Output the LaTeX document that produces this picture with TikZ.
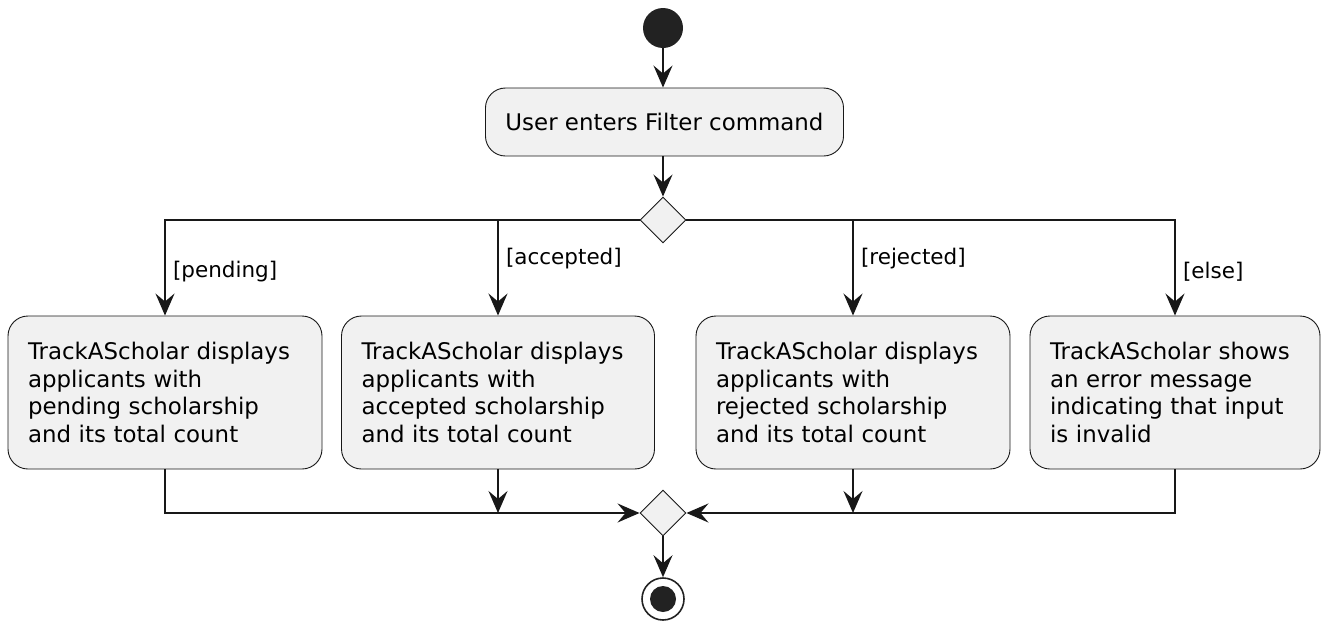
\documentclass[tikz,border=0pt]{standalone}
\usepackage{fontspec}
\setmainfont{DejaVu Sans}
\usetikzlibrary{shapes.geometric,arrows.meta}
\definecolor{actfill}{HTML}{F1F1F1}
\definecolor{ink}{HTML}{181818}
\definecolor{dot}{HTML}{222222}
\tikzset{
  act/.style={draw=ink, line width=0.9pt, fill=actfill, rounded corners=20pt,
    inner xsep=20pt, inner ysep=0pt, font=\fontsize{22.9}{27.7}\selectfont},
  actbox/.style={act, minimum height=153pt, text width=#1, align=left},
  dia/.style={draw=ink, line width=0.9pt, fill=actfill, diamond, aspect=1,
    minimum width=46pt, minimum height=46pt, inner sep=0pt},
  startc/.style={circle, fill=dot, minimum size=40pt, inner sep=0pt},
  endc/.style={circle, draw=dot, line width=1.6pt, fill=white, minimum size=42pt, inner sep=0pt},
  conn/.style={draw=ink, line width=2pt},
  arr/.style={conn, -{Stealth[length=22pt, width=19pt, inset=8pt]}},
  lbl/.style={font=\fontsize{21.5}{26}\selectfont, anchor=west, inner sep=0pt, xshift=7pt}
}
\begin{document}
\begin{tikzpicture}[x=1pt,y=-1pt]
\useasboundingbox (0,0) rectangle (1336,624);
\node[startc] (start) at (663,28) {};
\node[act, minimum width=357pt, minimum height=68pt] (cmd) at (664.5,122) {User enters Filter command};
\node[dia] (d1) at (663,220) {};
\node[actbox=274pt] (a) at (165,392.5) {TrackAScholar displays\\applicants with\\pending scholarship\\and its total count};
\node[actbox=273pt] (b) at (498,392.5) {TrackAScholar displays\\applicants with\\accepted scholarship\\and its total count};
\node[actbox=274pt] (c) at (853,392.5) {TrackAScholar displays\\applicants with\\rejected scholarship\\and its total count};
\node[actbox=250pt] (d) at (1175,392.5) {TrackAScholar shows\\an error message\\indicating that input\\is invalid};
\node[dia] (d2) at (663,513) {};
\node[endc] (end) at (663,599) {};
\fill[dot] (end) circle (13pt);

\draw[arr] (start) -- (start |- cmd.north);
\draw[arr] (cmd.south -| d1) -- (d1);
\draw[arr] (d1.west) -| node[lbl, pos=0.77] {[pending]} (a.north);
\draw[arr] (d1.west) -| node[lbl, pos=0.7] {[accepted]} (b.north);
\draw[arr] (d1.east) -| node[lbl, pos=0.7] {[rejected]} (c.north);
\draw[arr] (d1.east) -| node[lbl, pos=0.77] {[else]} (d.north);

\draw[arr] (a.south) |- (d2.west);
\draw[arr] (d.south) |- (d2.east);
\draw[arr] (b.south) -- (b.south |- d2.west);
\draw[arr] (c.south) -- (c.south |- d2.east);
\draw[arr] (d2) -- (end);
\end{tikzpicture}
\end{document}
